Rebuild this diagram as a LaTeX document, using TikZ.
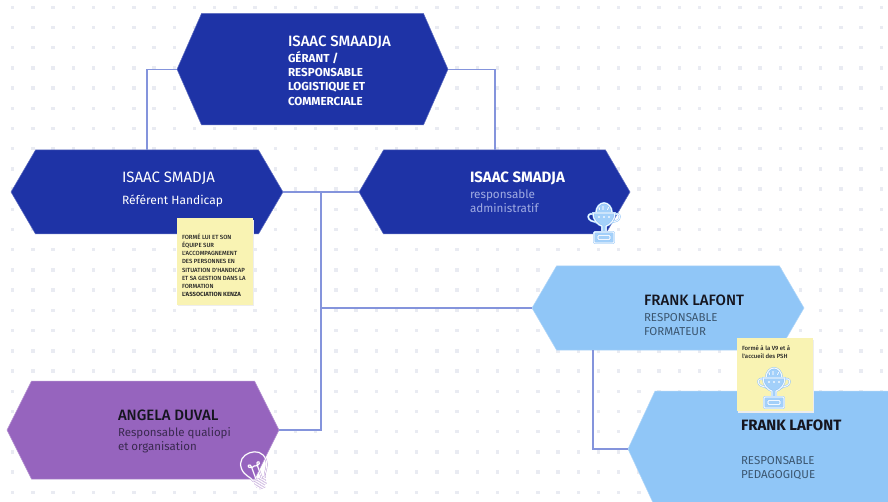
\documentclass[tikz,border=0pt]{standalone}
\usepackage{fontspec}
\setmainfont{Fira Sans}
\newfontfamily\firamed{Fira Sans Medium}
\usetikzlibrary{calc}
\definecolor{navy}{HTML}{1E33A6}
\definecolor{sky}{HTML}{90C6F7}
\definecolor{plum}{HTML}{9664BE}
\definecolor{wire}{HTML}{8494DC}
\definecolor{sticky}{HTML}{F9F3B3}
\definecolor{gridgrey}{HTML}{E9EBF2}
\definecolor{iconblue}{HTML}{A3D0FA}
\definecolor{iconedge}{HTML}{86BFF6}
\definecolor{iconline}{HTML}{F2F8FF}
\definecolor{paleblue}{HTML}{A0ABE2}
\definecolor{inkk}{HTML}{15151F}
\definecolor{skyink}{HTML}{3B5670}
\definecolor{plumink}{HTML}{3A2950}
\tikzset{
  anchorbox/.style={rectangle,inner sep=0pt,outer sep=0pt},
  wirestyle/.style={draw=wire,line width=1.2pt},
  lab/.style={anchor=base west,inner sep=0pt,outer sep=0pt,align=left},
  notebox/.style={rectangle,fill=sticky,inner sep=0pt,outer sep=0pt},
  notetxt/.style={anchor=north west,inner sep=0pt,outer sep=0pt,align=left,text=black!85,font=\fontsize{6}{8.25}\selectfont\firamed},
  trophyline/.style={draw=iconedge,line width=.4pt,double=iconline,double distance=1.1pt},
  bulbline/.style={draw=plum!75!white,line width=.35pt,double=white,double distance=1pt},
}
% name, left apex x, right apex x, top y, bottom y, inset, colour
\newcommand{\hexa}[7]{%
  \node[anchorbox,minimum width=#3pt-#2pt,minimum height=#5pt-#4pt] (#1) at ({(#2+#3)/2},{(#4+#5)/2}) {};
  \fill[#7,draw=#7!70!white,line width=.5pt] (#1.west) -- ($(#1.north west)+(#6,0)$) -- ($(#1.north east)+(-#6,0)$) -- (#1.east) -- ($(#1.south east)+(-#6,0)$) -- ($(#1.south west)+(#6,0)$) -- cycle;
}
\newcommand{\trophy}[2]{% x, y of the rim centre
  \begin{scope}[shift={(#1,#2)}]
    \fill[iconblue] (-8,0) .. controls (-8,-6) and (-4,-10) .. (0,-10) .. controls (4,-10) and (8,-6) .. (8,0) -- cycle;
    \draw[trophyline] (-8,0) .. controls (-8,-6) and (-4,-10) .. (0,-10) .. controls (4,-10) and (8,-6) .. (8,0);
    \draw[trophyline] (-1,-3) -- (-1,-7) (3.5,-3) -- (4.5,-6) (-4.5,-3) -- (-5,-6);
    \draw[trophyline] (-11,1) .. controls (-15,0) and (-17,3) .. (-15,6) .. controls (-13,9) and (-9,8) .. (-7,10);
    \draw[trophyline] (11,1) .. controls (15,0) and (17,3) .. (15,6) .. controls (13,9) and (9,8) .. (7,10);
    \fill[iconblue] (-11,0) -- (11,0) .. controls (11,7) and (6,12) .. (2,13) -- (2,19) -- (-2,19) -- (-2,13) .. controls (-6,12) and (-11,7) .. (-11,0) -- cycle;
    \draw[trophyline] (-11,0) -- (11,0) .. controls (11,7) and (6,12) .. (2,13) -- (2,19) -- (-2,19) -- (-2,13) .. controls (-6,12) and (-11,7) .. (-11,0) -- cycle;
    \fill[iconline] (-5,4) circle (1.1) (0,4) circle (1.1) (5,4) circle (1.1);
    \fill[iconblue,rounded corners=1pt] (-10,19) rectangle (10,30);
    \draw[trophyline,rounded corners=1pt] (-10,19) rectangle (10,30);
    \draw[trophyline,rounded corners=1pt] (-6,22.5) rectangle (6,26.5);
  \end{scope}
}
\begin{document}
\begin{tikzpicture}[x=1pt,y=-1pt]
\useasboundingbox (0,0) rectangle (888,502);
\clip (0,0) rectangle (888,502);
\fill[white] (0,0) rectangle (888,502);
% dot grid
\foreach \i in {0,...,43}{\foreach \j in {0,...,24}{
  \fill[gridgrey] ({12.7+20.2*\i-1.7},{7.4+20.2*\j-1.7}) rectangle ++(3.4,3.4);
}}
% hexagons
\hexa{gerant}{177}{448}{13.5}{125}{24.5}{navy}
\hexa{handicap}{11}{283}{150}{234}{24.5}{navy}
\hexa{admin}{359}{630}{150}{234}{24.5}{navy}
\hexa{formateur}{532}{804}{266}{350}{24.5}{sky}
\hexa{qualiopi}{7}{279}{381}{479}{24.5}{plum}
\hexa{pedago}{628}{950}{391}{507}{27}{sky}
% connectors
\coordinate (branch) at (321,192);
\coordinate (branchb) at (321,308);
\coordinate (splitf) at (593,350);
\coordinate (leftdrop) at (147,150);
\coordinate (rightdrop) at (495,150);
\draw[wirestyle] (gerant.west) -| (leftdrop);
\draw[wirestyle] (gerant.east) -| (rightdrop);
\draw[wirestyle] (handicap.east) -- (admin.west);
\draw[wirestyle] (branch) -- (branchb) -- (formateur.west);
\draw[wirestyle] (branchb) |- (qualiopi.east);
\draw[wirestyle] (splitf) |- (pedago.west);
% labels
\node[lab,text=white,font=\fontsize{15}{15}\selectfont\firamed] (t1) at (288,46.5) {ISAAC SMAADJA};
\node[lab,text=white,font=\fontsize{11.6}{14.4}\selectfont\bfseries,anchor=north west] (t2) at (288,51) {GÉRANT /\\RESPONSABLE\\LOGISTIQUE ET\\COMMERCIALE};
\node[lab,text=white,font=\fontsize{15}{15}\selectfont] (t3) at (122,182.5) {ISAAC SMADJA};
\node[lab,text=white,font=\fontsize{12}{14}\selectfont] (t4) at (122,204.5) {Référent Handicap};
\node[lab,text=white,font=\fontsize{15}{15}\selectfont\bfseries] (t5) at (470,182.5) {ISAAC SMADJA};
\node[lab,text=paleblue,font=\fontsize{11.7}{13.5}\selectfont,anchor=north west] (t6) at (470,190) {responsable\\administratif};
\node[lab,text=inkk,font=\fontsize{15}{15}\selectfont\firamed] (t7) at (644,305.5) {FRANK LAFONT};
\node[lab,text=skyink,font=\fontsize{11.5}{14}\selectfont,anchor=north west] (t8) at (644,313) {RESPONSABLE\\FORMATEUR};
\node[lab,text=inkk,font=\fontsize{15}{15}\selectfont\firamed] (t9) at (118,420.5) {ANGELA DUVAL};
\node[lab,text=plumink,font=\fontsize{11.5}{14}\selectfont,anchor=north west] (t10) at (118,428) {Responsable qualiopi\\et organisation};
\node[lab,text=inkk,font=\fontsize{15}{15}\selectfont\bfseries] (t11) at (741,430.5) {FRANK LAFONT};
\node[lab,text=skyink,font=\fontsize{11.5}{14}\selectfont,anchor=north west] (t12) at (741,456) {RESPONSABLE\\PEDAGOGIQUE};
% sticky notes
\fill[black!7] (178,220) rectangle (254,306.5);
\node[notebox,minimum width=76pt,minimum height=87pt] (note1) at (215,261.5) {};
\node[notetxt] (note1t) at (182,233.5) {FORMÉ LUI ET SON\\ÉQUIPE SUR\\L'ACCOMPAGNEMENT\\DES PERSONNES EN\\SITUATION D'HANDICAP\\ET SA GESTION DANS LA\\FORMATION\\{\bfseries\fontspec{Fira Sans}L'ASSOCIATION KENZA}};
\fill[black!7] (738,340) rectangle (814,412.5);
\node[notebox,minimum width=76pt,minimum height=73pt] (note2) at (775,374.5) {};
\node[notetxt,font=\fontsize{6}{7.8}\selectfont\firamed] (note2t) at (742,345.5) {Formé à la V9 et à\\l'accueil des PSH};
% icons
\trophy{604}{213}
\trophy{774}{378}
% bulb
\begin{scope}[shift={(254,465)},rotate=20]
  \draw[bulbline] (-6,15) .. controls (-7,10) and (-13,7) .. (-13,-1) .. controls (-13,-9) and (-7,-13) .. (0,-13) .. controls (7,-13) and (13,-9) .. (13,-1) .. controls (13,7) and (7,10) .. (6,15) -- cycle;
  \draw[bulbline] (-3,15) -- (-3,1) .. controls (-3,-3) and (-7,-2) .. (-5.5,0.5) .. controls (-4.5,2) and (-1,2) .. (0,1) .. controls (1,2) and (4.5,2) .. (5.5,0.5) .. controls (7,-2) and (3,-3) .. (3,1) -- (3,15);
  \draw[bulbline] (-6,18) -- (6,18) (-5.5,21) -- (5.5,21) (-3,24) -- (3,24);
\end{scope}
\end{tikzpicture}
\end{document}
